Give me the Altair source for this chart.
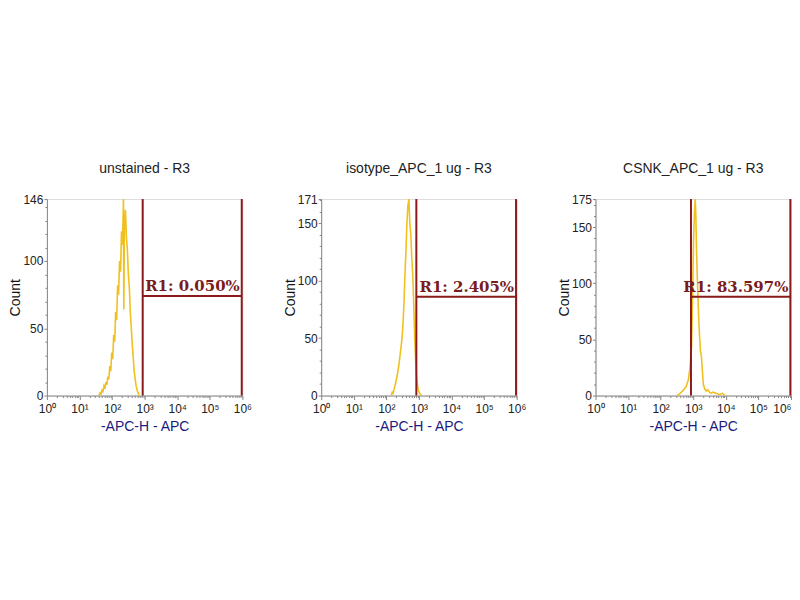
import altair as alt
import pandas as pd

# ---- panel metadata ----
panel_titles = ["unstained - R3", "isotype_APC_1 ug - R3", "CSNK_APC_1 ug - R3"]
y_max = [146, 171, 175]
gate_lo_exp = [2.94, 2.92, 2.93]
gate_hi_exp = [5.98, 5.98, 5.98]
gate_level = [74, 86, 88]
gate_text = ["R1: 0.050%", "R1: 2.405%", "R1: 83.597%"]
x_title = "-APC-H - APC"
y_title = "Count"
decade_labels = ["10\u2070", "10\u00b9", "10\u00b2", "10\u00b3", "10\u2074", "10\u2075", "10\u2076"]

# ---- histogram values (channel exponent, count) ----
h1_exp = [1.60, 1.63, 1.66, 1.69, 1.72, 1.75, 1.78, 1.81, 1.84, 1.87, 1.90, 1.93, 1.96, 1.99,
          2.02, 2.05, 2.08, 2.11, 2.14, 2.17, 2.20, 2.23, 2.26, 2.29, 2.32, 2.35, 2.36, 2.38,
          2.41, 2.44, 2.47, 2.50, 2.53, 2.56, 2.59, 2.62, 2.65, 2.68, 2.71, 2.74, 2.77, 2.80, 2.83]
h1_cnt = [0, 2, 1, 4, 3, 7, 5, 10, 8, 14, 12, 22, 18, 32,
          27, 45, 40, 62, 56, 82, 75, 100, 92, 122, 112, 146, 64, 128,
          138, 118, 108, 90, 80, 62, 50, 38, 28, 18, 12, 7, 4, 2, 0]

h2_exp = [2.15, 2.18, 2.21, 2.24, 2.27, 2.30, 2.33, 2.36, 2.39, 2.42, 2.45, 2.48, 2.51, 2.54,
          2.57, 2.60, 2.63, 2.66, 2.69, 2.72, 2.75, 2.78, 2.81, 2.84, 2.87, 2.90, 2.93, 2.96,
          2.99, 3.02, 3.05, 3.08]
h2_cnt = [0, 3, 2, 6, 9, 13, 17, 22, 28, 35, 42, 50, 62, 80,
          105, 125, 150, 165, 171, 150, 140, 120, 105, 80, 50, 30, 15, 8,
          4, 2, 1, 0]

h3_exp = [2.50, 2.60, 2.70, 2.78, 2.85, 2.90, 2.95, 2.98, 3.01, 3.04, 3.06, 3.08, 3.10, 3.13,
          3.16, 3.19, 3.22, 3.25, 3.28, 3.31, 3.35, 3.40, 3.45, 3.50, 3.55, 3.60, 3.70, 3.80,
          3.90, 3.97]
h3_cnt = [0, 2, 5, 8, 14, 25, 45, 90, 140, 165, 175, 160, 130, 100,
          75, 55, 40, 35, 22, 10, 6, 4, 5, 3, 2, 3, 2, 1,
          2, 0]

hist_exp = [h1_exp, h2_exp, h3_exp]
hist_cnt = [h1_cnt, h2_cnt, h3_cnt]

HIST_COLOR = "#f0c020"
GATE_COLOR = "#8b1a1a"
TEXT_COLOR = "#7a1c1c"
AXIS_GREY = "#a0a0a0"
FONT = "Liberation Sans"

x_ticks = [m * 10 ** k for k in range(6) for m in range(1, 10)] + [10 ** 6]
is_decade = "abs(log(datum.value)/LN10 - round(log(datum.value)/LN10)) < 0.001"
lbl_arr = "[" + ",".join("'" + s + "'" for s in decade_labels) + "]"
x_label_expr = f"({is_decade}) ? {lbl_arr}[round(log(datum.value)/LN10)] : ''"


def panel(i, last=False):
    ymax = y_max[i]
    hist = pd.DataFrame({"x": [10 ** e for e in hist_exp[i]], "count": hist_cnt[i]})
    gate = pd.DataFrame({
        "lo": [10 ** gate_lo_exp[i]],
        "hi": [10 ** gate_hi_exp[i]],
        "level": [gate_level[i]],
        "label": [gate_text[i]],
    })
    y_vals = list(range(0, ymax, 10)) + [ymax]
    y_major = f"(datum.value == 0 || datum.value == 50 || datum.value == 100 || datum.value == 150 || datum.value == {ymax})"

    xscale = alt.Scale(type="log", domain=[1, 10 ** 6], nice=False)
    yscale = alt.Scale(domain=[0, ymax], nice=False, zero=True)

    label_align = (
        {"condition": {"test": "datum.value >= 1000000", "value": "right"}, "value": "center"}
        if last else "center"
    )
    xaxis = alt.Axis(
        values=x_ticks, labelExpr=x_label_expr, title=x_title,
        titleColor="#1a1a80", titleFontWeight="normal", titleFontSize=14, titleFont=FONT,
        titlePadding=5, labelFlush=False, labelOverlap=False, labelPadding=4,
        labelFont=FONT, labelFontSize=12, labelColor="#222", labelAlign=label_align,
        tickSize={"condition": {"test": is_decade, "value": 4}, "value": 2},
        grid=False,
    )
    yaxis = alt.Axis(
        values=y_vals, labelExpr=f"{y_major} ? datum.label : ''", title=y_title,
        titleFontWeight="normal", titleFontSize=14, titleColor="#111", titleFont=FONT,
        labelFont=FONT, labelFontSize=12, labelColor="#222",
        labelOverlap=False, titlePadding=0, labelPadding=1,
        tickSize={"condition": {"test": y_major, "value": 3}, "value": 2},
        grid=False,
    )

    def X(field):
        return alt.X(field, type="quantitative", scale=xscale, axis=xaxis)

    def Y(field):
        return alt.Y(field, type="quantitative", scale=yscale, axis=yaxis)

    line = alt.Chart(hist).mark_line(color=HIST_COLOR, strokeWidth=1.6, interpolate="linear").encode(
        x=X("x"), y=Y("count"),
    )
    base = alt.Chart(gate)
    v_lo = base.mark_rule(color=GATE_COLOR, strokeWidth=2).encode(x=X("lo"))
    v_hi = base.mark_rule(color=GATE_COLOR, strokeWidth=2).encode(x=X("hi"))
    h = base.mark_rule(color=GATE_COLOR, strokeWidth=2).encode(
        x=X("lo"), x2="hi:Q", y=Y("level")
    )
    txt = base.mark_text(
        align="right", baseline="bottom", dx=-2, dy=-2, color=TEXT_COLOR,
        font="DejaVu Serif", fontSize=15, fontWeight="bold",
    ).encode(x=X("hi"), y=Y("level"), text="label:N")

    return alt.layer(line, v_lo, v_hi, h, txt).properties(
        width=196, height=197,
        title=alt.TitleParams(panel_titles[i], fontSize=14, fontWeight="normal",
                              color="#222", offset=17, font=FONT),
    )


chart = alt.hconcat(panel(0), panel(1), panel(2, last=True), spacing=79, bounds="flush").properties(
    padding={"top": 153, "left": 0, "right": 0, "bottom": 0}
).configure_view(stroke=AXIS_GREY, strokeWidth=1).configure_axis(
    domainColor=AXIS_GREY, tickColor="#808080",
).configure(background="white")

chart.save("out.html", embed_options={"renderer": "svg", "actions": False})
